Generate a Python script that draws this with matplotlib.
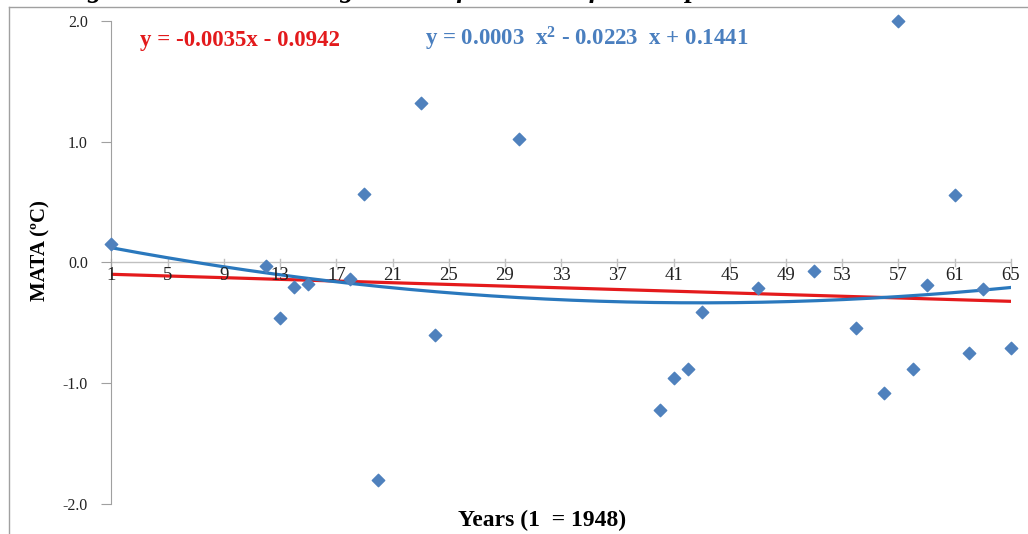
import numpy as np
import matplotlib
matplotlib.use('Agg')
import matplotlib.pyplot as plt
from matplotlib.lines import Line2D

# Mean annual temperature anomaly (MATA) by year index (1 = 1948)
years = [1, 12, 13, 14, 15, 18, 19, 20, 23, 24, 30, 40, 41, 42, 43, 47,
         51, 54, 56, 57, 58, 59, 61, 62, 63, 65]
mata = [0.15, -0.03, -0.46, -0.20, -0.18, -0.14, 0.57, -1.80, 1.32, -0.60, 1.02,
        -1.22, -0.96, -0.88, -0.41, -0.21, -0.07, -0.54, -1.08, 2.00, -0.88,
        -0.19, 0.56, -0.75, -0.22, -0.71]

# trendline coefficients (highest power first)
lin_coef = [-0.0035, -0.0942]
quad_coef = [0.00026, -0.0223, 0.1441]
lin_label = 'y = -0.0035x - 0.0942'
quad_label = 'y = 0.0003  x$^{2}$ - 0.0223  x + 0.1441'

xticks = list(range(1, 66, 4))
yticks = [-2.0, -1.0, 0.0, 1.0, 2.0]

plt.rcParams['font.family'] = ['Liberation Serif', 'DejaVu Serif']
plt.rcParams['mathtext.fontset'] = 'custom'
plt.rcParams['mathtext.rm'] = 'Liberation Serif:bold'
plt.rcParams['mathtext.it'] = 'Liberation Serif:bold'
plt.rcParams['mathtext.bf'] = 'Liberation Serif:bold'

fig = plt.figure(figsize=(10.28, 5.34), dpi=100)
ax = fig.add_axes([0.1084, 0.0562, 0.875, 0.9045])

xs = np.linspace(1, 65, 200)
ax.plot(xs, np.polyval(lin_coef, xs), color='#e41a1c', lw=2.3, zorder=3)
ax.plot(xs, np.polyval(quad_coef, xs), color='#2a78bd', lw=2.3, zorder=3)
ax.scatter(years, mata, marker='D', s=40, color='#4f81bd', zorder=4, clip_on=False)

ax.set_xlim(1, 65)
ax.set_ylim(-2, 2)
for s in ['top', 'right', 'bottom']:
    ax.spines[s].set_visible(False)
ax.spines['left'].set_color('#a0a0a0')
ax.axhline(0, color='#c0c0c0', lw=1, zorder=1)

ax.set_yticks(yticks)
ax.set_yticklabels(['%.1f' % v for v in yticks], fontsize=11.5, color='#222222')
ax.tick_params(axis='y', direction='out', length=7, color='#a0a0a0', pad=10)

ax.set_xticks([])
for xt in xticks:
    ax.plot([xt, xt], [0.03, -0.03], color='#c0c0c0', lw=1, clip_on=False, zorder=1)
    ax.text(xt, -0.04, str(xt), ha='center', va='top', fontsize=13.5, color='#222222')

ax.text(3.0, 1.84, lin_label, color='#e31a1c', fontsize=16.5, fontweight='bold',
        va='center')
ax.text(23.3, 1.85, quad_label, color='#4a7fbf', fontsize=16.5, fontweight='bold',
        va='center')

fig.text(0.039, 0.53, 'MATA (ºC)', rotation=90, ha='center', va='center',
         fontsize=15, fontweight='bold')
fig.text(0.527, 0.025, 'Years (1  = 1948)', ha='center', va='center',
         fontsize=17, fontweight='bold')

# cropped caption above the frame
fig.text(0.06, 1.006, 'Figure 6: Curvilinear regression of Sabah surface temperature data at Kudat',
         fontsize=20, fontweight='bold', style='italic', va='baseline', ha='left')

# chart frame
fig.add_artist(Line2D([0.0088, 1.0], [0.987, 0.987], color='#a0a0a0', lw=1))
fig.add_artist(Line2D([0.0088, 0.0088], [0.0, 0.987], color='#a0a0a0', lw=1))

fig.savefig('out.png', dpi=100)
